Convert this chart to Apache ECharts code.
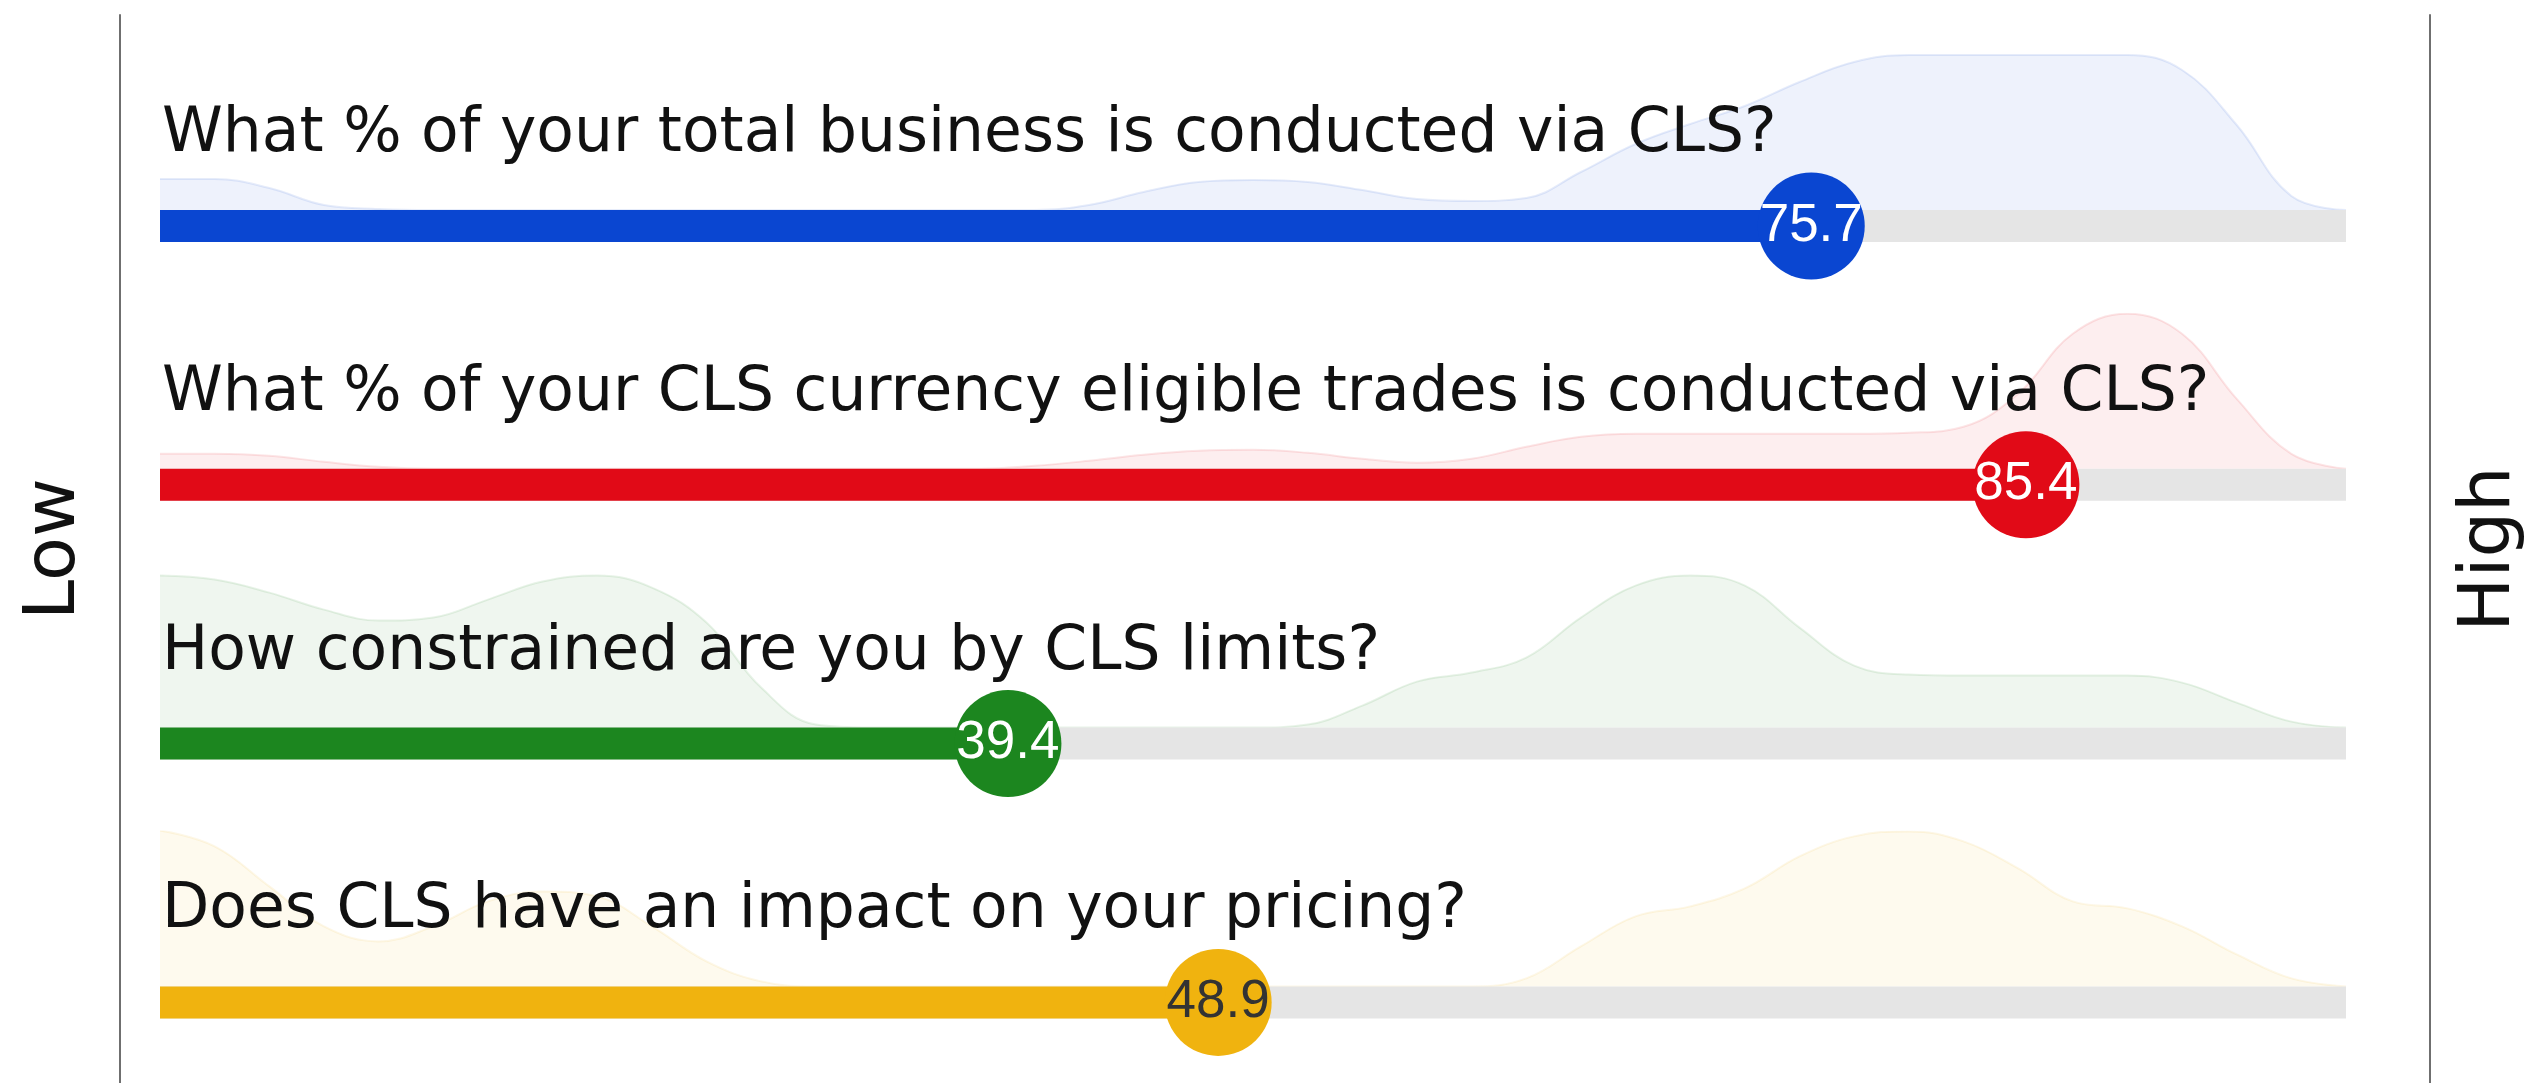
<!DOCTYPE html>
<html>
<head>
<meta charset="utf-8">
<style>
  html, body { margin: 0; padding: 0; background: #fff; }
  #chart { width: 2534px; height: 1083px; }
</style>
<script src="https://cdn.jsdelivr.net/npm/echarts@6/dist/echarts.min.js"></script>
</head>
<body>
<div id="chart"></div>
<script>
// questions, top to bottom
const questions = [
  'What % of your total business is conducted via CLS?',
  'What % of your CLS currency eligible trades is conducted via CLS?',
  'How constrained are you by CLS limits?',
  'Does CLS have an impact on your pricing?'
]
const scores = [75.7, 85.4, 39.4, 48.9]
const barColors = ['#0a46d1', '#e10a17', '#1c861f', '#f0b30f']
const scoreLabelColors = ['#ffffff', '#ffffff', '#ffffff', '#333333']
const axisNames = ['Low', 'High']

// spread of answers behind each bar (relative density, peak ~155)
const densityX = [0, 2.5, 5, 7.5, 10, 12.5, 15, 17.5, 20, 22.5, 25, 27.5, 30, 32.5, 35, 37.5, 40,
  42.5, 45, 47.5, 50, 52.5, 55, 57.5, 60, 62.5, 65, 67.5, 70, 72.5, 75, 77.5, 80, 82.5, 85, 87.5,
  90, 92.5, 95, 97.5, 100]
const densityTotalBusiness = [31, 31, 22, 5, 1, 0, 0, 0, 0, 0, 0, 0, 0, 0, 0, 0, 0,
  5, 18, 28, 30, 28, 20, 11, 9, 12, 38, 66, 86, 104, 128, 148, 155, 155, 155, 155,
  155, 140, 85, 14, 0]
const densityEligibleTrades = [15, 15, 13, 7, 2, 0, 0, 0, 0, 0, 0, 0, 0, 0, 0, 0, 3,
  8, 14, 18, 19, 16, 10, 6, 10, 22, 32, 35, 35, 35, 35, 35, 36, 42, 75, 135,
  155, 135, 70, 15, 0]
const densityLimits = [152, 148, 135, 118, 107, 110, 128, 146, 152, 140, 105, 40, 3, 0, 0, 0, 0,
  0, 0, 0, 0, 3, 22, 46, 55, 70, 110, 142, 152, 142, 100, 62, 53, 52, 52, 52,
  52, 45, 25, 6, 0]
const densityPricing = [156, 140, 100, 60, 45, 60, 85, 95, 90, 60, 25, 5, 0, 0, 0, 0, 0,
  0, 0, 0, 0, 0, 0, 0, 0, 8, 40, 70, 80, 98, 130, 150, 155, 145, 118, 85,
  78, 60, 32, 8, 0]
const densities = [densityTotalBusiness, densityEligibleTrades, densityLimits, densityPricing]

// layout
const rowTop = 226
const rowStep = 258.8
const barWidth = 32
const densityHeight = 155
const trackLeft = 160
const trackWidth = 2186

function hexAlpha(hex, a) {
  let n = parseInt(hex.slice(1), 16)
  return 'rgba(' + (n >> 16) + ',' + ((n >> 8) & 255) + ',' + (n & 255) + ',' + a + ')'
}

let grids = [
  // frame with the two side axes
  { left: 120, width: 2313, top: 15, height: 1080 },
  // tracks and bars, first row on the top edge, last row on the bottom edge
  { left: trackLeft, width: trackWidth, top: rowTop, height: rowStep * 3 },
  // score circles
  { left: 136, width: 2213, top: rowTop, height: rowStep * 3 }
]
let xAxes = [
  { gridIndex: 0, type: 'value', min: 0, max: 1, show: false },
  { gridIndex: 1, type: 'value', min: 0, max: 100, show: false },
  { gridIndex: 2, type: 'value', min: 0, max: 100, show: false }
]
let axisNameStyle = { fontFamily: 'DejaVu Sans', fontSize: 72, color: '#111' }
let yAxes = [
  {
    gridIndex: 0, type: 'value', min: 0, max: 1, position: 'left',
    name: axisNames[0], nameLocation: 'middle', nameRotate: 90, nameGap: 29,
    nameTextStyle: axisNameStyle,
    axisLine: { show: true, lineStyle: { color: '#6f6f6f', width: 2 } },
    axisTick: { show: false }, axisLabel: { show: false }, splitLine: { show: false }
  },
  {
    gridIndex: 0, type: 'value', min: 0, max: 1, position: 'right',
    name: axisNames[1], nameLocation: 'middle', nameRotate: 90, nameGap: 24,
    nameTextStyle: axisNameStyle,
    axisLine: { show: true, lineStyle: { color: '#6f6f6f', width: 2 } },
    axisTick: { show: false }, axisLabel: { show: false }, splitLine: { show: false }
  },
  { gridIndex: 1, type: 'category', data: questions, inverse: true, boundaryGap: false, show: false },
  { gridIndex: 2, type: 'category', data: questions, inverse: true, boundaryGap: false, show: false }
]

let series = [
  {
    name: 'track',
    type: 'bar',
    xAxisIndex: 1,
    yAxisIndex: 2,
    data: questions.map(() => 100),
    barWidth: barWidth,
    itemStyle: { color: '#e5e5e5' },
    clip: false,
    z: 2,
    silent: true,
    label: {
      show: true,
      position: [2, -75],
      align: 'left',
      verticalAlign: 'middle',
      fontFamily: 'DejaVu Sans',
      fontSize: 61.5,
      color: '#111',
      formatter: p => questions[p.dataIndex]
    }
  },
  {
    name: 'score bar',
    type: 'bar',
    xAxisIndex: 1,
    yAxisIndex: 2,
    barGap: '-100%',
    barWidth: barWidth,
    data: scores.map((s, i) => ({ value: s, itemStyle: { color: barColors[i] } })),
    clip: false,
    z: 3,
    silent: true
  },
  {
    name: 'score',
    type: 'scatter',
    xAxisIndex: 2,
    yAxisIndex: 3,
    symbolSize: 107,
    clip: false,
    data: scores.map((s, i) => ({
      value: [s, i],
      itemStyle: { color: barColors[i], opacity: 1 },
      label: { color: scoreLabelColors[i] }
    })),
    label: {
      show: true,
      position: 'inside',
      fontFamily: 'Liberation Sans',
      fontSize: 53,
      formatter: p => p.value[0].toFixed(1)
    },
    z: 4,
    silent: true
  }
]

densities.forEach((d, i) => {
  let gi = grids.length
  let xi = xAxes.length
  let yi = yAxes.length
  grids.push({
    left: trackLeft,
    width: trackWidth,
    top: rowTop + i * rowStep - barWidth / 2 - densityHeight,
    height: densityHeight
  })
  xAxes.push({ gridIndex: gi, type: 'value', min: 0, max: 100, show: false })
  yAxes.push({ gridIndex: gi, type: 'value', min: 0, max: densityHeight, show: false })
  series.push({
    name: 'density ' + i,
    type: 'line',
    xAxisIndex: xi,
    yAxisIndex: yi,
    data: densityX.map((x, k) => [x, d[k]]),
    smooth: 0.4,
    symbol: 'none',
    lineStyle: { color: hexAlpha(barColors[i], 0.1), width: 2 },
    areaStyle: { color: hexAlpha(barColors[i], 0.07), opacity: 1 },
    z: 1,
    silent: true
  })
})

let myChart = echarts.init(document.getElementById('chart'))
myChart.setOption({
  animation: false,
  backgroundColor: '#fff',
  grid: grids,
  xAxis: xAxes,
  yAxis: yAxes,
  series: series
})
</script>
</body>
</html>
